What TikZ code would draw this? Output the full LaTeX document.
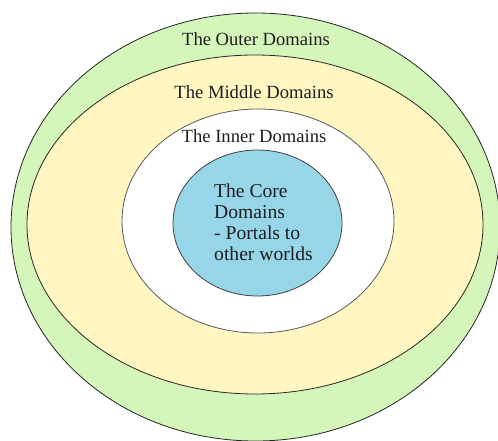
\documentclass[tikz,border=0pt]{standalone}
\usepackage{fontspec}
\setmainfont{Liberation Serif}
\usetikzlibrary{shapes.geometric}
\definecolor{outergreen}{RGB}{212,246,186}
\definecolor{middleyellow}{RGB}{255,246,194}
\definecolor{coreblue}{RGB}{150,214,232}
\definecolor{txt}{RGB}{30,30,30}
\tikzset{
  ring/.style={ellipse, inner sep=0pt, draw=black!85, line width=0.8pt},
  lbl/.style={text=txt, font=\fontsize{18.6}{21}\selectfont, inner sep=0pt}
}
\begin{document}
\begin{tikzpicture}[x=1pt,y=-1pt]
\useasboundingbox (0,0) rectangle (498,441);
\fill[white] (0,0) rectangle (498,441);
\begin{scope}
\clip (0,0) rectangle (498,441);
\node[ring, fill=outergreen, minimum width=489pt, minimum height=428pt] (outer) at (255.5,227) {};
\node[ring, fill=middleyellow, minimum width=456pt, minimum height=339pt] (middle) at (255,224.5) {};
\node[ring, fill=white, draw=black!65, minimum width=272pt, minimum height=224pt] (inner) at (258,221) {};
\node[ring, fill=coreblue, draw=black!75, minimum width=169pt, minimum height=146pt] (core) at (257.5,223) {};
\end{scope}
\node[lbl] (touter) at (256,39) {The Outer Domains};
\node[lbl] (tmiddle) at (254,92) {The Middle Domains};
\node[lbl] (tinner) at (254,136) {The Inner Domains};
\node[lbl, anchor=north west, align=left, font=\fontsize{19.6}{20.8}\selectfont] (tcore) at (214,184) {The Core\\Domains\\- Portals to\\other worlds};
\end{tikzpicture}
\end{document}
